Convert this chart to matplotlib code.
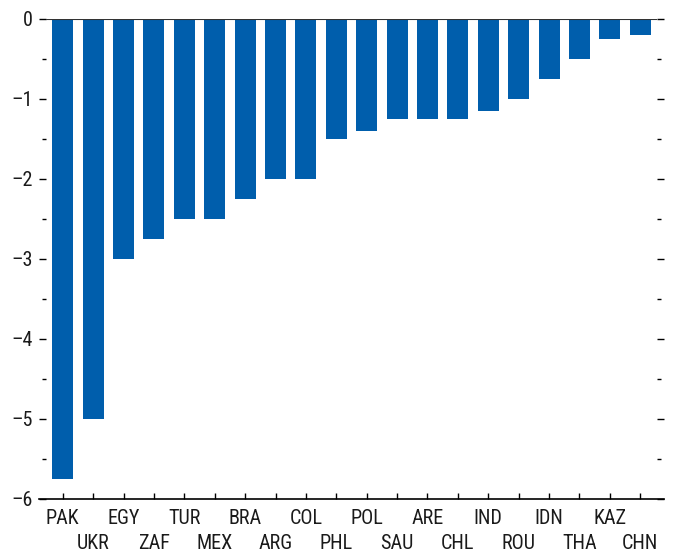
import matplotlib
matplotlib.use("Agg")
import matplotlib.pyplot as plt
from matplotlib.ticker import MultipleLocator, FixedLocator

plt.rcParams['font.family'] = ['Roboto Condensed', 'Liberation Sans', 'DejaVu Sans']
plt.rcParams['axes.unicode_minus'] = True

countries = ["PAK", "UKR", "EGY", "ZAF", "TUR", "MEX", "BRA", "ARG", "COL", "PHL",
             "POL", "SAU", "ARE", "CHL", "IND", "ROU", "IDN", "THA", "KAZ", "CHN"]
values = [-5.75, -5.0, -3.0, -2.75, -2.5, -2.5, -2.25, -2.0, -2.0, -1.5,
          -1.4, -1.25, -1.25, -1.25, -1.15, -1.0, -0.75, -0.5, -0.25, -0.2]
yticks = [0, -1, -2, -3, -4, -5, -6]
ytick_labels = ["0", "\u20131", "\u20132", "\u20133", "\u20134", "\u20135", "\u20136"]

bar_color = "#005EAC"
text_color = "#1a1a1a"

fig = plt.figure(figsize=(6.74, 5.54), dpi=100)
ax = fig.add_axes([46/674, 1-499/554, (657-46)/674, (499-19)/554])

x = list(range(len(countries)))
ax.bar(x, values, width=0.69, color=bar_color, zorder=2)
ax.axhline(0, color="#333333", lw=1.5, zorder=3)

ax.set_xlim(-0.55, len(countries) - 0.45)
ax.set_ylim(-6, 0)

for s in ["left", "right", "top"]:
    ax.spines[s].set_visible(False)
ax.spines["bottom"].set_linewidth(1.2)
ax.spines["bottom"].set_bounds(-0.78, len(countries) - 0.22)

# alternate labels on two rows: even positions as major ticks, odd as minor ticks
even_x = x[0::2]
odd_x = x[1::2]
ax.xaxis.set_major_locator(FixedLocator(even_x))
ax.xaxis.set_minor_locator(FixedLocator(odd_x))
ax.set_xticklabels(countries[0::2], fontsize=14.5, color=text_color)
ax.set_xticklabels(countries[1::2], minor=True, fontsize=14.5, color=text_color)
ax.tick_params(axis="x", which="major", direction="in", length=4.3, width=1.0, pad=7.5, top=False)
ax.tick_params(axis="x", which="minor", direction="in", length=4.3, width=1.0, pad=25.5, top=False)

ax.yaxis.set_major_locator(FixedLocator(yticks))
ax.set_yticklabels(ytick_labels, fontsize=14.5, color=text_color)
ax.yaxis.set_minor_locator(MultipleLocator(0.5))
ax.tick_params(axis="y", which="major", direction="out", length=5, width=1.0,
               left=True, right=True, labelright=False, pad=4.3)
ax.tick_params(axis="y", which="minor", direction="out", length=3, width=1.0,
               left=True, right=True)

fig.savefig("out.png", dpi=100)
